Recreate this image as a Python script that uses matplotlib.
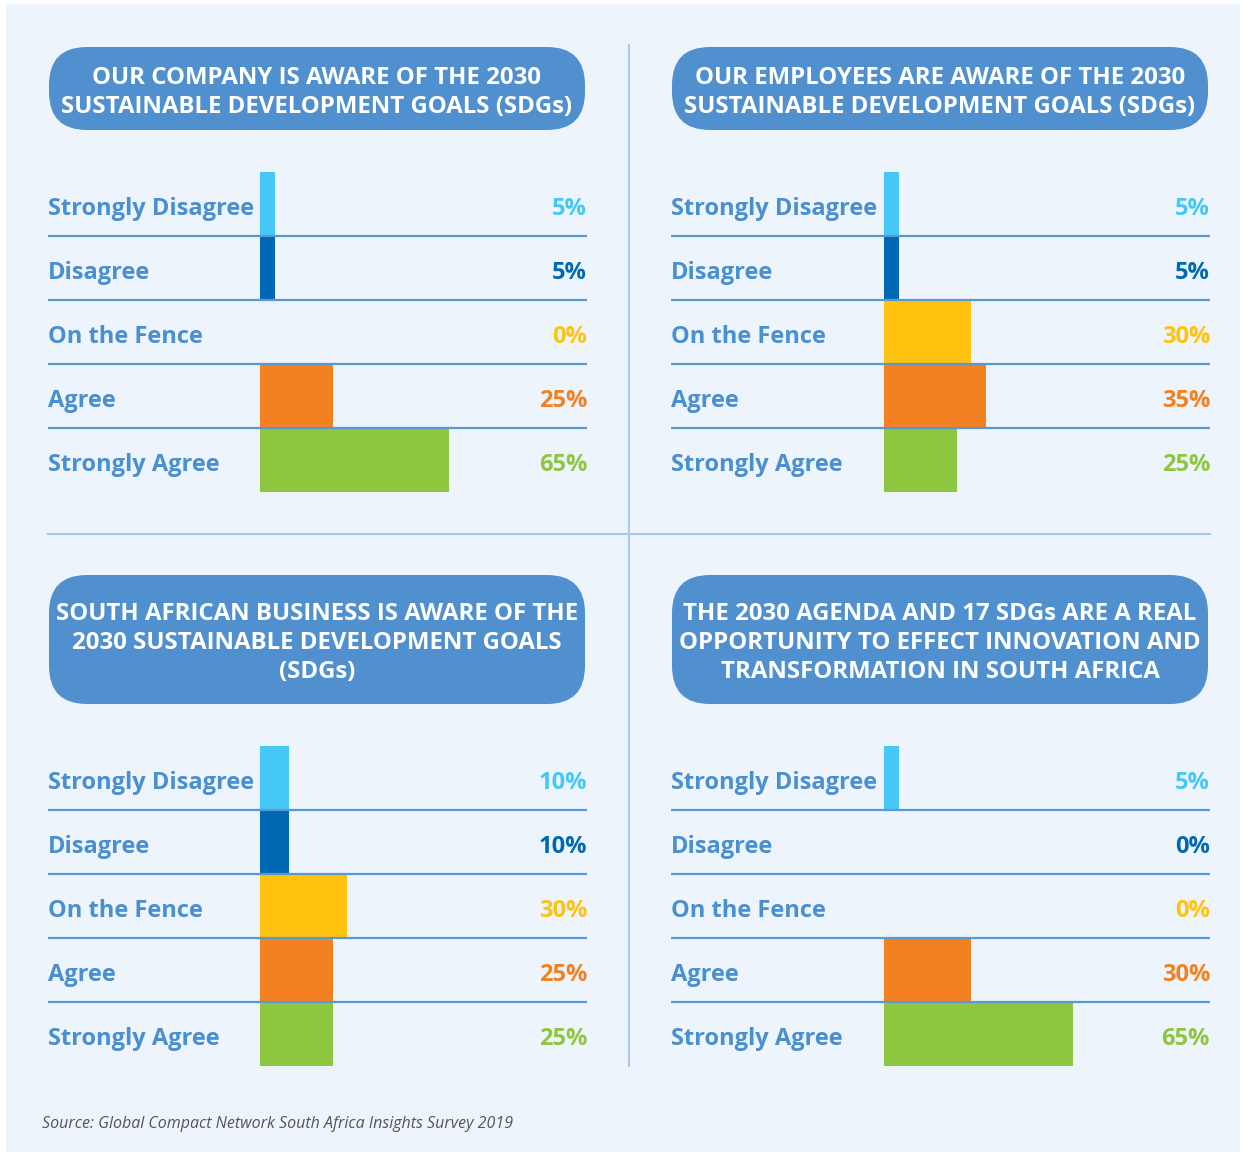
import matplotlib
matplotlib.use("Agg")
import matplotlib.pyplot as plt
from matplotlib.patches import FancyBboxPatch, Rectangle

# ---------------- data ----------------
categories = ["Strongly Disagree", "Disagree", "On the Fence", "Agree", "Strongly Agree"]
company_aware = [5, 5, 0, 25, 65]
employees_aware = [5, 5, 30, 35, 25]
sa_business_aware = [10, 10, 30, 25, 25]
real_opportunity = [5, 0, 0, 30, 65]

titles = [
    ["OUR COMPANY IS AWARE OF THE 2030", "SUSTAINABLE DEVELOPMENT GOALS (SDGs)"],
    ["OUR EMPLOYEES ARE AWARE OF THE 2030", "SUSTAINABLE DEVELOPMENT GOALS (SDGs)"],
    ["SOUTH AFRICAN BUSINESS IS AWARE OF THE", "2030 SUSTAINABLE DEVELOPMENT GOALS", "(SDGs)"],
    ["THE 2030 AGENDA AND 17 SDGs ARE A REAL", "OPPORTUNITY TO EFFECT INNOVATION AND", "TRANSFORMATION IN SOUTH AFRICA"],
]
source = "Source: Global Compact Network South Africa Insights Survey 2019"

# ---------------- style ----------------
cat_colors = ["#45C8F5", "#0069B4", "#FFC20E", "#F38121", "#8DC63F"]
label_color = "#4A8FD0"
line_color = "#5B97D2"
box_color = "#5190CE"
bg_color = "#EDF4FB"
FONT = ["Open Sans", "DejaVu Sans"]

W, H = 1245, 1155
fig = plt.figure(figsize=(W / 100, H / 100), dpi=100)
fig.patch.set_facecolor("white")

# background axes in pixel coordinates
bg = fig.add_axes([0, 0, 1, 1])
bg.set_xlim(0, W)
bg.set_ylim(H, 0)
bg.axis("off")
bg.add_patch(Rectangle((6, 4), 1234, 1148, facecolor=bg_color, edgecolor="none"))

# separators
bg.plot([629, 629], [45, 1066], color="#A9C9E8", lw=1.5)
bg.plot([48, 1210], [534, 534], color="#A9C9E8", lw=1.5)

# panel layout: (left px, right px, bar-start px, title box top, title box bottom, rows top)
panels = [
    (48, 587, 260, 47, 130, 172),
    (671, 1210, 884, 47, 130, 172),
    (48, 587, 260, 575, 704, 746),
    (671, 1210, 884, 575, 704, 746),
]
datasets = [company_aware, employees_aware, sa_business_aware, real_opportunity]
px_per_pct = 2.9
row_h = 64

for (left, right, x0, btop, bbot, rtop), vals, ttl in zip(panels, datasets, titles):
    # title box
    bl, br = left + 1, right - 2
    rad = 38
    bg.add_patch(FancyBboxPatch((bl + rad, btop + rad), (br - bl) - 2 * rad, (bbot - btop) - 2 * rad,
                                boxstyle=f"round,pad={rad}", facecolor=box_color, edgecolor="none"))
    cy = (btop + bbot) / 2
    n = len(ttl)
    for i, line in enumerate(ttl):
        yy = cy + (i - (n - 1) / 2) * 29 + 9.5
        bg.text((bl + br) / 2, yy, line, ha="center", va="baseline", color="white",
                fontsize=17.3, fontweight="bold", family=FONT)

    # bar axes
    ax_h = row_h * len(categories)
    ax = fig.add_axes([left / W, 1 - (rtop + ax_h) / H, (right - left) / W, ax_h / H])
    ax.patch.set_alpha(0)
    xmin = -(x0 - left) / px_per_pct
    xmax = (right - x0) / px_per_pct
    ax.set_xlim(xmin, xmax)
    ax.set_ylim(len(categories) - 0.5, -0.5)
    ax.axis("off")
    ypos = list(range(len(categories)))
    ax.barh(ypos, vals, height=1.0, left=0, color=cat_colors, zorder=2)
    for k in range(len(categories) - 1):
        ax.axhline(k + 0.5, color=line_color, lw=1.6, zorder=3)
    for k, (cat, v) in enumerate(zip(categories, vals)):
        ax.text(xmin, k + 0.17, cat, ha="left", va="baseline", color=label_color,
                fontsize=17, fontweight="bold", family=FONT, zorder=4)
        ax.text(xmax, k + 0.17, f"{v}%", ha="right", va="baseline", color=cat_colors[k],
                fontsize=17, fontweight="bold", family=FONT, zorder=4)

bg.text(42, 1128, source, ha="left", va="baseline", color="#555555", fontsize=11.5,
        style="italic", family=FONT)

fig.savefig("out.png", dpi=100, facecolor="white")
